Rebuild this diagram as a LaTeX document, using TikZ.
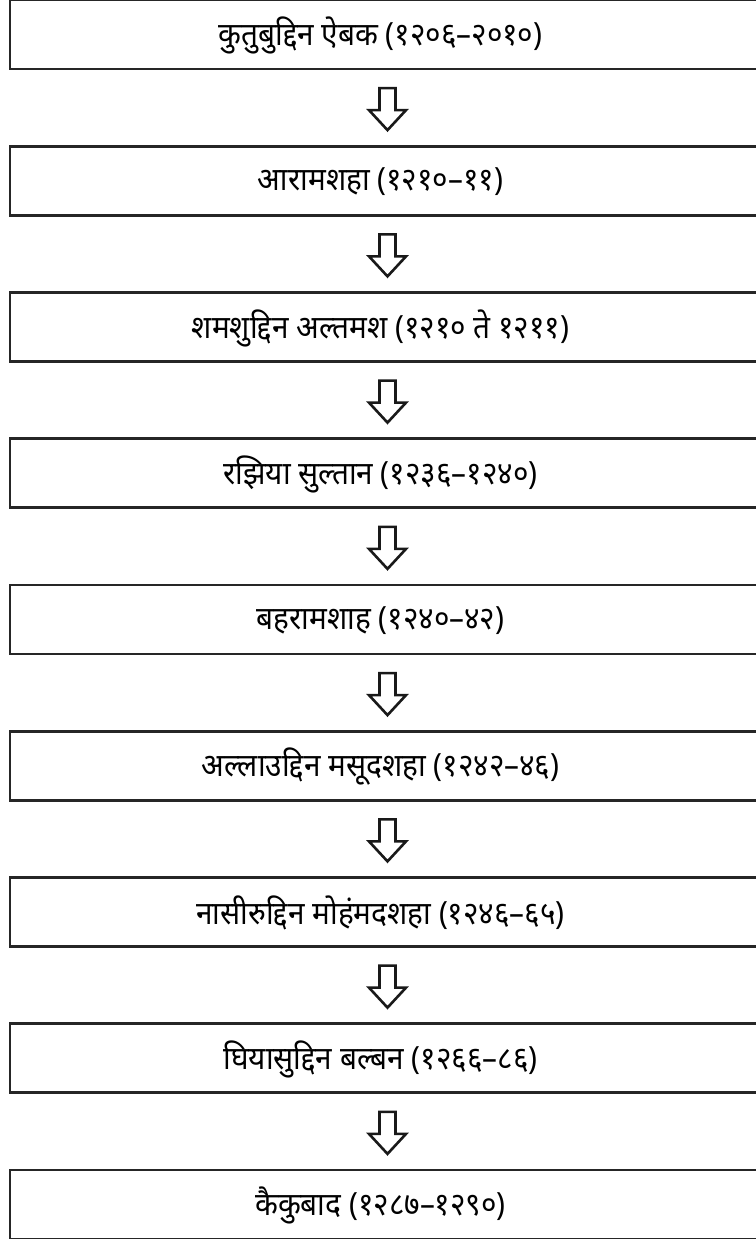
\documentclass[tikz,border=0pt]{standalone}
\usepackage{fontspec}
\newfontfamily\deva[Script=Devanagari,FakeStretch=0.93]{Noto Sans}
\usetikzlibrary{calc}
\begin{document}
\begin{tikzpicture}[x=1pt,y=-1pt,
  box/.style={draw=black!85, line width=2.6pt, minimum width=755pt, minimum height=69pt, inner sep=0pt},
  label text/.style={inner sep=0pt, font=\deva\fontsize{32}{36}\selectfont},
  blockarrow/.style={draw=black!90, line width=2.6pt, line join=miter, miter limit=10}]
\useasboundingbox (0,0) rectangle (755,1239);
\foreach \i/\y in {1/34.5,2/180.75,3/327,4/473.25,5/619.5,6/765.75,7/912,8/1058.25,9/1204.5}
  \node[box] (b\i) at (387.5,\y) {};
\node[label text] (t1) at ([xshift=-7pt,yshift=-1pt]b1.center) {कुतुबुद्दिन ऐबक (१२०६–२०१०)};
\node[label text] (t2) at ([xshift=-7pt,yshift=-1pt]b2.center) {आरामशहा (१२१०–११)};
\node[label text] (t3) at ([xshift=-7pt,yshift=-1pt]b3.center) {शमशुद्दिन अल्तमश (१२१० ते १२११)};
\node[label text] (t4) at ([xshift=-7pt,yshift=-1pt]b4.center) {रझिया सुल्तान (१२३६–१२४०)};
\node[label text] (t5) at ([xshift=-7pt,yshift=-1pt]b5.center) {बहरामशाह (१२४०–४२)};
\node[label text] (t6) at ([xshift=-7pt,yshift=-1pt]b6.center) {अल्लाउद्दिन मसूदशहा (१२४२–४६)};
\node[label text] (t7) at ([xshift=-7pt,yshift=-1pt]b7.center) {नासीरुद्दिन मोहंमदशहा (१२४६–६५)};
\node[label text] (t8) at ([xshift=-7pt,yshift=-1pt]b8.center) {घियासुद्दिन बल्बन (१२६६–८६)};
\node[label text] (t9) at ([xshift=-7pt,yshift=-1pt]b9.center) {कैकुबाद (१२८७–१२९०)};
\foreach \a/\b in {1/2,2/3,3/4,4/5,5/6,6/7,7/8,8/9}{
  \coordinate (a\a) at ($(b\a.south)!0.5!(b\b.north)+(0,1.5)$);
  \draw[blockarrow, shift={(a\a)}] (-8,-21) -- (8,-21) -- (8,1) -- (18.5,1) -- (0,21)
     -- (-18.5,1) -- (-8,1) -- cycle;
}
\end{tikzpicture}
\end{document}
